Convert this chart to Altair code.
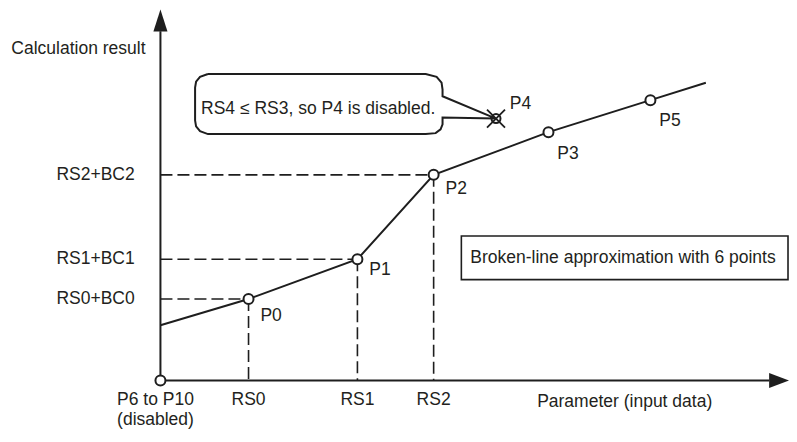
import altair as alt
import pandas as pd

# ---- data (units: x = parameter / input data, y = calculation result; origin at axes crossing)
line_x = [0, 89, 199, 276, 392, 495, 551]
line_y = [57, 84, 125, 212, 256, 289, 307]

pt_names = ["P0", "P1", "P2", "P3", "P5"]
pt_x = [89, 199, 276, 392, 495]
pt_y = [84, 125, 212, 256, 289]

guide_x = [89, 199, 276]          # RS0, RS1, RS2
guide_y = [84, 125, 212]          # RS0+BC0, RS1+BC1, RS2+BC2
xtick_labels = ["RS0", "RS1", "RS2"]
ytick_labels = ["RS0+BC0", "RS1+BC1", "RS2+BC2"]

disabled_name = ["P4"]
disabled_x = [339]
disabled_y = [270]

origin_x = [0]
origin_y = [0]

lbl_names = ["P0", "P1", "P2", "P3", "P4", "P5"]
lbl_x = [101, 211, 288, 401, 353, 504]
lbl_y = [66, 114, 197, 233, 285, 267]

callout_x = [48, 268, 279, 284, 285, 285, 339, 285, 285, 283, 278, 268, 48, 40, 36, 35, 35, 36, 40, 48]
callout_y = [316, 316, 313, 307, 300, 293, 270, 271, 264, 259, 255, 254, 254, 257, 262, 268, 302, 308, 313, 316]
callout_text = "RS4 \u2264 RS3, so P4 is disabled."

note_text = "Broken-line approximation with 6 points"
note_box_x = [304, 634]
note_box_y = [104, 149]

y_axis_top = 360
x_axis_end = 615
y_arrow = [0, 371]
x_arrow = [625, 0]

FONT = "Liberation Sans"
FS = 17.5
INK = "#1e1e1e"
TXT = "#231f20"

xs = alt.Scale(domain=[-154, 635], nice=False, zero=False)
ys = alt.Scale(domain=[-50, 384], nice=False, zero=False)


def X(f):
    return alt.X(f, type="quantitative", scale=xs, axis=None)


def Y(f):
    return alt.Y(f, type="quantitative", scale=ys, axis=None)


def text_layer(df, align, baseline="middle"):
    return alt.Chart(df).mark_text(
        font=FONT, fontSize=FS, color=TXT, align=align, baseline=baseline
    ).encode(x=X("x"), y=Y("y"), text="t:N")


# axes
axes_df = pd.DataFrame({"x": [0, 0], "y": [0, 0], "x2": [0, x_axis_end], "y2": [y_axis_top, 0]})
axes = alt.Chart(axes_df).mark_rule(color=INK, strokeWidth=2).encode(
    x=X("x"), y=Y("y"), x2="x2", y2="y2"
)
yarrow = alt.Chart(pd.DataFrame({"x": [y_arrow[0]], "y": [y_arrow[1]]})).mark_point(
    shape="M0,-1L0.64,1L-0.64,1Z", size=484, filled=True, fill=INK, stroke=None, opacity=1
).encode(x=X("x"), y=Y("y"))
xarrow = alt.Chart(pd.DataFrame({"x": [x_arrow[0]], "y": [x_arrow[1]]})).mark_point(
    shape="M1,0L-1,-0.75L-1,0.75Z", size=400, filled=True, fill=INK, stroke=None, opacity=1
).encode(x=X("x"), y=Y("y"))

# dashed guides
g_df = pd.DataFrame({"gx": guide_x, "gy": guide_y, "zero": [0, 0, 0]})
hguides = alt.Chart(g_df).mark_rule(color=INK, strokeWidth=1.6, strokeDash=[12, 5]).encode(
    x=X("zero"), x2="gx", y=Y("gy")
)
vguides = alt.Chart(g_df).mark_rule(color=INK, strokeWidth=1.6, strokeDash=[12, 5]).encode(
    x=X("gx"), y=Y("gy"), y2="zero"
)

# broken line
line = alt.Chart(pd.DataFrame({"x": line_x, "y": line_y, "o": list(range(len(line_x)))})).mark_line(
    color=INK, strokeWidth=2
).encode(x=X("x"), y=Y("y"), order="o:Q")

# points
pts = alt.Chart(pd.DataFrame({"x": pt_x + origin_x, "y": pt_y + origin_y})).mark_point(
    shape="circle", size=100, filled=True, fill="white", stroke=INK, strokeWidth=2, opacity=1
).encode(x=X("x"), y=Y("y"))

# callout
callout = alt.Chart(pd.DataFrame({"x": callout_x, "y": callout_y, "o": list(range(len(callout_x)))})).mark_line(
    color=INK, strokeWidth=2
).encode(x=X("x"), y=Y("y"), order="o:Q")

dis_df = pd.DataFrame({"x": disabled_x, "y": disabled_y})
dis_circle = alt.Chart(dis_df).mark_point(
    shape="circle", size=81, filled=False, stroke=INK, strokeWidth=2, opacity=1
).encode(x=X("x"), y=Y("y"))
dis_cross = alt.Chart(dis_df).mark_point(
    shape="M-1,-1L1,1M-1,1L1,-1", size=324, filled=False, stroke=INK, strokeWidth=1.8, opacity=1
).encode(x=X("x"), y=Y("y"))

# note box
note_box = alt.Chart(pd.DataFrame({"x": [note_box_x[0]], "x2": [note_box_x[1]],
                                   "y": [note_box_y[0]], "y2": [note_box_y[1]]})).mark_rect(
    fill="white", stroke=INK, strokeWidth=1.6
).encode(x=X("x"), x2="x2", y=Y("y"), y2="y2")

# texts
texts_left = pd.DataFrame({
    "x": lbl_x + [41, 313],
    "y": lbl_y + [280, 126],
    "t": lbl_names + [callout_text, note_text],
})
texts_right = pd.DataFrame({
    "x": [-26, -26, -26, -15],
    "y": guide_y + [342],
    "t": ytick_labels + ["Calculation result"],
})
texts_center = pd.DataFrame({
    "x": guide_x + [-5, -5, 469],
    "y": [-20, -20, -20, -20, -41, -22],
    "t": xtick_labels + ["P6 to P10", "(disabled)", "Parameter (input data)"],
})

chart = alt.layer(
    note_box,
    hguides, vguides,
    axes, yarrow, xarrow,
    line, callout,
    dis_circle, dis_cross,
    pts,
    text_layer(texts_left, "left"),
    text_layer(texts_right, "right"),
    text_layer(texts_center, "center"),
).properties(
    width=781, height=421, padding=0, autosize="none", background="white"
).configure_view(stroke=None)

chart.save("out.html", embed_options={"renderer": "svg", "actions": False})
